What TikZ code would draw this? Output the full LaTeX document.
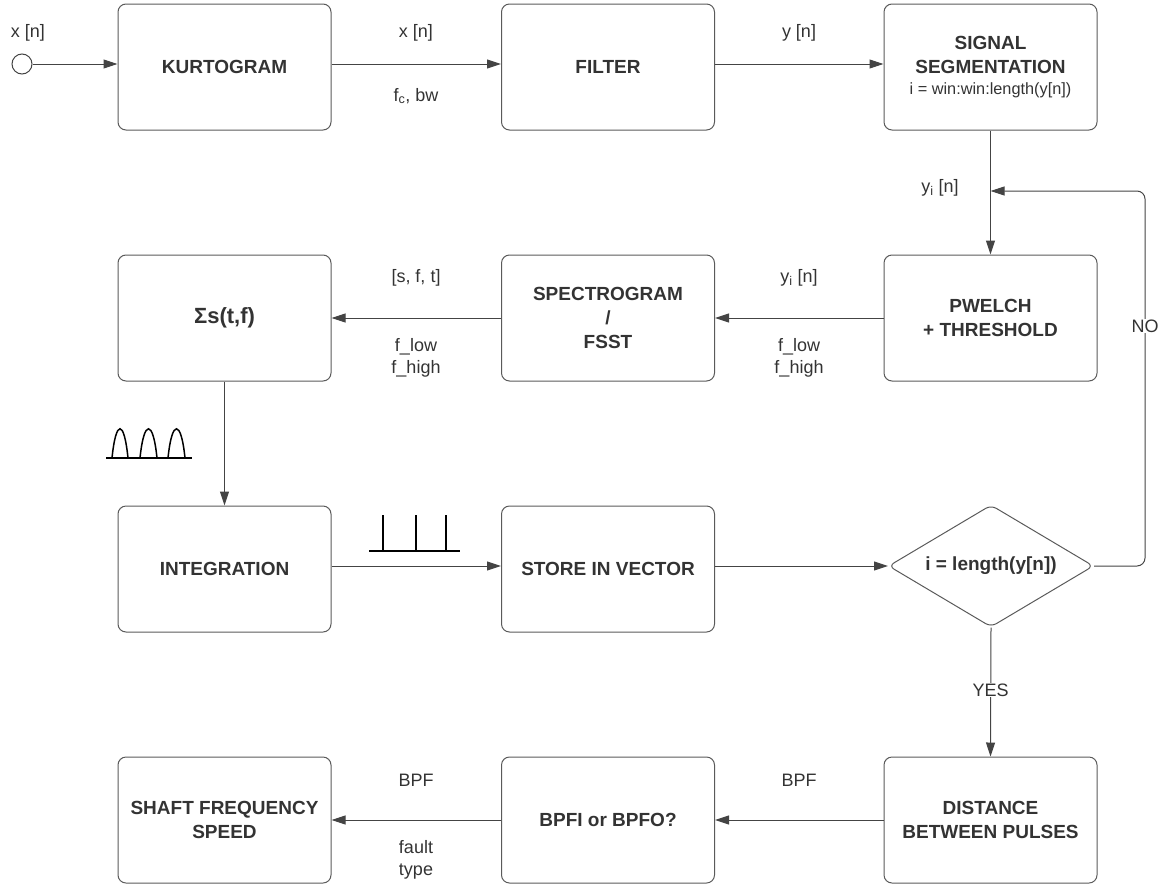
\documentclass[tikz,border=0pt]{standalone}
\usepackage{fontspec}
\setmainfont{Liberation Sans}
\usetikzlibrary{arrows.meta,shapes.geometric}
\definecolor{txt}{HTML}{333333}
\definecolor{boxc}{HTML}{5A5A5A}
\definecolor{linec}{HTML}{444444}
\begin{document}
\begin{tikzpicture}[x=1pt,y=-1pt,
  box/.style={draw=boxc, line width=1pt, rounded corners=8pt, minimum width=213pt, minimum height=126pt, align=center, font=\fontsize{19}{24}\selectfont\bfseries, text=txt, inner sep=0pt},
  lab/.style={font=\fontsize{18}{22}\selectfont, text=txt, align=center, inner sep=1pt},
  conn/.style={draw=linec, line width=1pt},
  arr/.style={conn, -{Triangle[length=14pt,width=9pt]}},
  icon/.style={draw=black, line width=1.5pt}]
\useasboundingbox (0,0) rectangle (1169,886);
% row 1
\node[circle, draw=linec, line width=1pt, minimum size=20pt, inner sep=0pt] (c) at (22,64) {};
\node[box] (k) at (224.5,67) {KURTOGRAM};
\node[box] (f) at (608,67) {FILTER};
\node[box] (s) at (990.5,67) {SIGNAL\\SEGMENTATION\\[-3pt]{\mdseries\fontsize{16.3}{19}\selectfont i = win:win:length(y[n])}};
% row 2
\node[box, font=\fontsize{22}{26}\selectfont\bfseries] (sig) at (224.5,318) {Σs(t,f)};
\node[box] (sp) at (608,318) {SPECTROGRAM\\/\\FSST};
\node[box] (p) at (990.5,318) {PWELCH\\+ THRESHOLD};
% row 3
\node[box] (int) at (224.5,569) {INTEGRATION};
\node[box] (st) at (608,569) {STORE IN VECTOR};
\node[draw=boxc, line width=1pt, shape=diamond, aspect=1.68, minimum width=205pt, minimum height=122pt, rounded corners=6pt, inner sep=0pt, font=\fontsize{19}{24}\selectfont\bfseries, text=txt] (d) at (991,566) {i = length(y[n])};
% row 4
\node[box] (sh) at (224.5,820) {SHAFT FREQUENCY\\SPEED};
\node[box] (bp) at (608,820) {BPFI or BPFO?};
\node[box] (dist) at (990.5,820) {DISTANCE\\BETWEEN PULSES};
% connectors
\draw[arr] (c) -- ([yshift=3pt]k.west);
\draw[arr] ([yshift=3pt]k.east) -- ([yshift=3pt]f.west);
\draw[arr] ([yshift=3pt]f.east) -- ([yshift=3pt]s.west);
\draw[arr] (s.south) -- (p.north);
\draw[arr] (p.west) -- (sp.east);
\draw[arr] (sp.west) -- (sig.east);
\draw[arr] (sig.south) -- (int.north);
\draw[arr] ([yshift=3pt]int.east) -- ([yshift=3pt]st.west);
\draw[arr] ([yshift=3pt]st.east) -- (d.west);
\coordinate (j) at (990.5,191);
\coordinate (c1) at (1145,566);
\coordinate (c2) at (1145,191);
\draw[arr, rounded corners=8pt] (d.east) -- (c1) -- (c2) -- (j);
\draw[arr] (d.south) -- (dist.north);
\draw[arr] (dist.west) -- (bp.east);
\draw[arr] (bp.west) -- (sh.east);
% labels
\node[lab] (l1) at (28,33) {x [n]};
\node[lab] (l2) at (416,33) {x [n]};
\node[lab] (l3) at (416,96) {f\textsubscript{c}, bw};
\node[lab] (l4) at (799,33) {y [n]};
\node[lab] (l5) at (940,188) {y\textsubscript{i} [n]};
\node[lab] (l6) at (799,278) {y\textsubscript{i} [n]};
\node[lab] (l7) at (799,358) {f\_low\\f\_high};
\node[lab] (l8) at (416,278) {[s, f, t]};
\node[lab] (l9) at (416,358) {f\_low\\f\_high};
\node[lab, fill=white] (no) at (1145,326) {NO};
\node[lab, fill=white] (yes) at (990.5,690) {YES};
\node[lab] (l10) at (799,780) {BPF};
\node[lab] (l11) at (416,780) {BPF};
\node[lab] (l12) at (416,860) {fault\\type};
% icons
\draw[icon] (106,458) -- (192,458);
\draw[icon] (112,458) .. controls (116,419) and (124,419) .. (128,458);
\draw[icon] (140,458) .. controls (144,419) and (153,419) .. (157,458);
\draw[icon] (168,458) .. controls (172,419) and (181,419) .. (185,458);
\draw[icon] (369,551) -- (460,551);
\draw[icon] (383,551) -- (383,515);
\draw[icon] (416,551) -- (416,515);
\draw[icon] (446,551) -- (446,515);
\end{tikzpicture}
\end{document}
